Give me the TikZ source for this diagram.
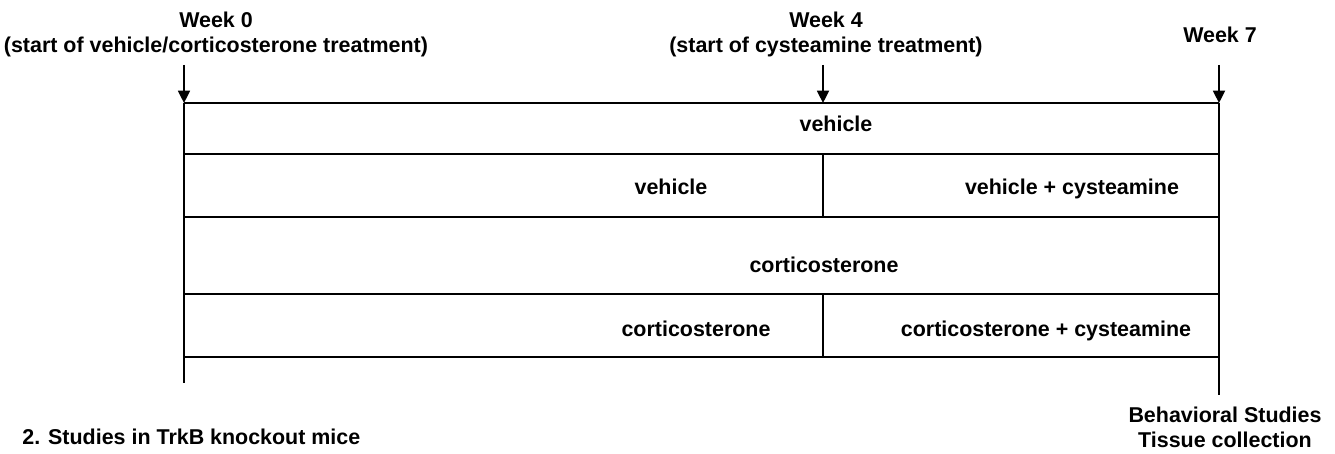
\documentclass[tikz,border=0pt]{standalone}
\usepackage{fontspec}
\setmainfont{Liberation Sans}
\usetikzlibrary{arrows.meta}
\begin{document}
\begin{tikzpicture}[
        lbl/.style={font=\bfseries\fontsize{12.2}{14.2}\selectfont, inner sep=0pt, align=center},
        cell/.style={lbl, text height=1.6ex, text depth=0.45ex},
        arrow/.style={-{Triangle[length=7pt, width=6.8pt]}, line width=1.1pt},
        rule/.style={line width=1.1pt}
    ]
        \useasboundingbox (0,0) rectangle (26.7,9.06);

        % time points
        \coordinate (top0) at (3.68,7.76);
        \coordinate (top4) at (16.46,7.76);
        \coordinate (top7) at (24.38,7.76);
        \coordinate (l1) at (3.68,7.0);  \coordinate (m1) at (16.46,7.0);  \coordinate (r1) at (24.38,7.0);
        \coordinate (l2) at (3.68,5.98); \coordinate (m2) at (16.46,5.98); \coordinate (r2) at (24.38,5.98);
        \coordinate (l3) at (3.68,4.72); \coordinate (m3) at (16.46,4.72); \coordinate (r3) at (24.38,4.72);
        \coordinate (l4) at (3.68,3.18); \coordinate (m4) at (16.46,3.18); \coordinate (r4) at (24.38,3.18);
        \coordinate (l5) at (3.68,1.92); \coordinate (m5) at (16.46,1.92); \coordinate (r5) at (24.38,1.92);
        \coordinate (lend) at (3.68,1.4);
        \coordinate (rend) at (24.38,1.16);

        \node[lbl] (week0) at (4.32,8.37) {Week 0\\(start of vehicle/corticosterone treatment)};
        \node[lbl] (week4) at (16.52,8.37) {Week 4\\(start of cysteamine treatment)};
        \node[lbl] (week7) at (24.4,8.37) {Week 7};

        \node[cell] (veh) at (16.72,6.53) {vehicle};
        \node[cell] (veh2) at (13.42,5.27) {vehicle};
        \node[cell] (vehcys) at (21.44,5.27) {vehicle + cysteamine};
        \node[cell] (cort) at (16.48,3.72) {corticosterone};
        \node[cell] (cort2) at (13.92,2.44) {corticosterone};
        \node[cell] (cortcys) at (20.92,2.44) {corticosterone + cysteamine};

        \node[lbl] (endpts) at (24.5,0.52) {Behavioral Studies\\Tissue collection};
        \node[lbl, anchor=west] (title) at (0.44,0.32) {2. Studies in TrkB knockout mice};

        \draw[arrow] (top0) -- (l1);
        \draw[arrow] (top4) -- (m1);
        \draw[arrow] (top7) -- (r1);

        \draw[rule] (l1) -- (lend);
        \draw[rule] (r1) -- (rend);
        \draw[rule] (l1) -- (r1);
        \draw[rule] (l2) -- (r2);
        \draw[rule] (l3) -- (r3);
        \draw[rule] (l4) -- (r4);
        \draw[rule] (l5) -- (r5);
        \draw[rule] (m2) -- (m3);
        \draw[rule] (m4) -- (m5);
    \end{tikzpicture}
\end{document}
